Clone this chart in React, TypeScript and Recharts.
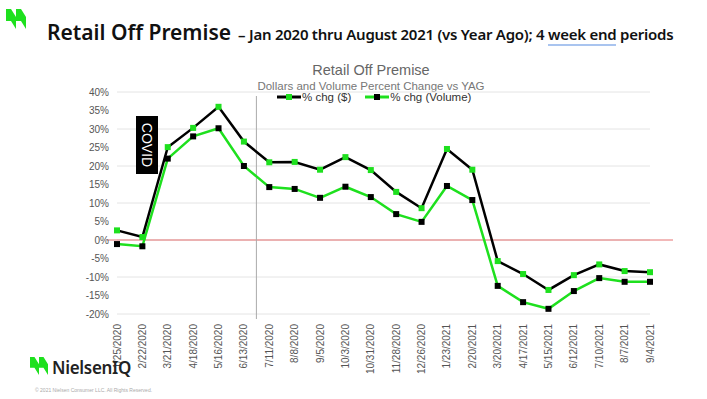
import React from "react";
import {
  LineChart,
  Line,
  XAxis,
  YAxis,
  CartesianGrid,
  ReferenceLine,
} from "recharts";

const periods = [
  "1/25/2020", "2/22/2020", "3/21/2020", "4/18/2020", "5/16/2020", "6/13/2020",
  "7/11/2020", "8/8/2020", "9/5/2020", "10/3/2020", "10/31/2020", "11/28/2020",
  "12/26/2020", "1/23/2021", "2/20/2021", "3/20/2021", "4/17/2021", "5/15/2021",
  "6/12/2021", "7/10/2021", "8/7/2021", "9/4/2021",
];

// % chg ($)
const dollarChg = [
  2.6, 0.8, 25.1, 30.3, 36.0, 26.6, 21.0, 21.1, 19.0, 22.4, 18.9, 13.0,
  8.6, 24.6, 19.0, -5.7, -9.2, -13.5, -9.5, -6.6, -8.4, -8.7,
];

// % chg (Volume)
const volumeChg = [
  -1.1, -1.7, 22.0, 28.0, 30.2, 20.0, 14.3, 13.8, 11.4, 14.4, 11.6, 7.0,
  4.9, 14.6, 10.8, -12.4, -16.8, -18.6, -13.8, -10.3, -11.3, -11.3,
];

const yTicks = [-20, -15, -10, -5, 0, 5, 10, 15, 20, 25, 30, 35, 40];

const GREEN = "#1ee01e";
const rows = periods.map((p, i) => ({ period: p, dollars: dollarChg[i], volume: volumeChg[i] }));

const squareDot = (color: string) => (props: any) => {
  const { cx, cy, index } = props;
  if (cx == null || cy == null) return null;
  return <rect key={`d-${index}`} x={cx - 3} y={cy - 3} width={6} height={6} fill={color} />;
};

const XTick = (props: any) => {
  const { x, y, payload } = props;
  return (
    <text
      x={x}
      y={y}
      transform={`rotate(-90, ${x}, ${y})`}
      textAnchor="end"
      dominantBaseline="central"
      fontSize={10}
      fill="#555"
      fontFamily="Liberation Sans, Arial, sans-serif"
    >
      {payload.value}
    </text>
  );
};

const LegendIcon = ({ line, dot }: { line: string; dot: string }) => (
  <svg width={24} height={8} style={{ marginRight: 1 }}>
    <line x1={0} y1={4} x2={24} y2={4} stroke={line} strokeWidth={3} />
    <rect x={9} y={1} width={6} height={6} fill={dot} />
  </svg>
);

const Logo = ({ x, y, s }: { x: number; y: number; s: number }) => (
  <svg
    width={22 * s}
    height={20 * s}
    style={{ position: "absolute", left: x, top: y }}
    viewBox="0 0 22 20"
  >
    <polygon points="0,0 5,0 10,8 10,20 5,12 0,12" fill={GREEN} />
    <polygon points="10,0 15,0 20,8 20,20 15,12 10,12" fill={GREEN} />
  </svg>
);

export default function App() {
  return (
    <div
      style={{
        position: "absolute",
        left: 0,
        top: 0,
        width: 707,
        height: 399,
        background: "#fff",
        overflow: "hidden",
        fontFamily: "Liberation Sans, Arial, sans-serif",
      }}
    >
      <Logo x={6} y={9} s={1} />
      <div
        style={{
          position: "absolute",
          left: 47,
          top: 18,
          whiteSpace: "nowrap",
          fontFamily: "Noto Sans, sans-serif",
          color: "#111",
        }}
      >
        <span style={{ fontSize: 21, fontWeight: 600 }}>Retail Off Premise</span>
        <span style={{ fontSize: 15, fontWeight: 600, letterSpacing: -0.25, marginLeft: 7 }}>
          – Jan 2020 thru August 2021 (vs Year Ago); 4{" "}
          <span style={{ borderBottom: "2px solid #a9c4ef" }}>week end</span> periods
        </span>
      </div>

      <div
        style={{
          position: "absolute",
          left: 0,
          width: 742,
          top: 62,
          textAlign: "center",
          color: "#666",
          fontSize: 14.5,
        }}
      >
        Retail Off Premise
      </div>
      <div
        style={{
          position: "absolute",
          left: 0,
          width: 742,
          top: 80,
          textAlign: "center",
          color: "#777",
          fontSize: 11.5,
        }}
      >
        Dollars and Volume Percent Change vs YAG
      </div>

      <div style={{ position: "absolute", left: 0, top: 0 }}>
        <LineChart width={707} height={399} data={rows} margin={{ top: 92, right: 57, bottom: 35, left: 57 }}>
          <CartesianGrid vertical={false} stroke="#e4e4e4" />
          <XAxis
            dataKey="period"
            interval={0}
            axisLine={false}
            tickLine={false}
            tick={<XTick />}
            tickMargin={4}
            height={50}
          />
          <YAxis
            width={60}
            domain={[-20, 40]}
            ticks={yTicks}
            axisLine={false}
            tickLine={false}
            tickFormatter={(v: number) => `${v}%`}
            tick={{ fontSize: 10, fill: "#555" }}
          />
          <ReferenceLine
            y={0}
            stroke="#e57373"
            shape={(p: any) => (
              <line x1={p.x1 - 10} y1={p.y1} x2={p.x2 + 23} y2={p.y2} stroke="#e57373" strokeWidth={1} />
            )}
          />
          <ReferenceLine
            x="6/13/2020"
            shape={(p: any) => (
              <line x1={p.x1 + 12.5} y1={p.y1 + 5} x2={p.x2 + 12.5} y2={p.y2 + 4} stroke="#aaa" strokeWidth={1} />
            )}
          />
          <Line
            dataKey="volume"
            name="% chg (Volume)"
            stroke={GREEN}
            strokeWidth={2.5}
            dot={squareDot("#000")}
            activeDot={false}
            isAnimationActive={false}
          />
          <Line
            dataKey="dollars"
            name="% chg ($)"
            stroke="#000"
            strokeWidth={2.5}
            dot={squareDot(GREEN)}
            activeDot={false}
            isAnimationActive={false}
          />
        </LineChart>
      </div>

      <div
        style={{
          position: "absolute",
          left: 277,
          top: 91,
          display: "flex",
          alignItems: "center",
          fontSize: 11.5,
          color: "#333",
        }}
      >
        <LegendIcon line="#000" dot={GREEN} />
        <span style={{ marginRight: 14 }}>% chg ($)</span>
        <LegendIcon line={GREEN} dot="#000" />
        <span>% chg (Volume)</span>
      </div>

      <div
        style={{
          position: "absolute",
          left: 136,
          top: 116,
          width: 22,
          height: 58,
          background: "#000",
          display: "flex",
          alignItems: "center",
          justifyContent: "center",
        }}
      >
        <span
          style={{
            color: "#fff",
            fontSize: 14,
            transform: "rotate(90deg)",
            whiteSpace: "nowrap",
          }}
        >
          COVID
        </span>
      </div>

      <Logo x={30} y={357} s={0.9} />
      <div
        style={{
          position: "absolute",
          left: 52,
          top: 356,
          fontSize: 17,
          fontWeight: 600,
          color: "#222",
          fontFamily: "Noto Sans, sans-serif",
          letterSpacing: -0.3,
        }}
      >
        NielsenIQ
      </div>
      <div
        style={{
          position: "absolute",
          left: 35,
          top: 387,
          fontSize: 5,
          color: "#aaa",
        }}
      >
        © 2021 Nielsen Consumer LLC. All Rights Reserved.
      </div>
    </div>
  );
}
